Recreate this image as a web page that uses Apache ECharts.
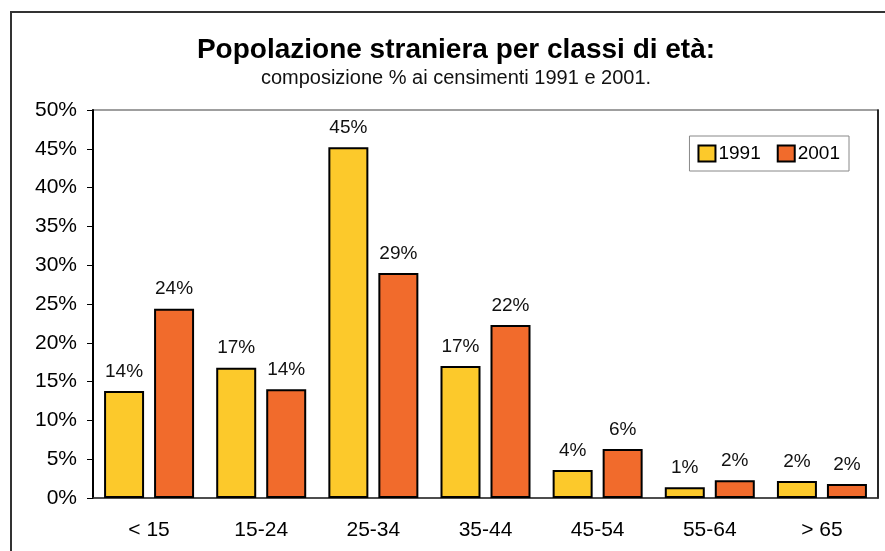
<!DOCTYPE html>
<html>
<head>
<meta charset="utf-8">
<script src="https://cdn.jsdelivr.net/npm/echarts@6/dist/echarts.min.js"></script>
<style>
  html, body { margin: 0; padding: 0; background: #fff; }
  #chart { width: 885px; height: 551px; }
</style>
</head>
<body>
<div id="chart"></div>
<script>
// classi di età e quote percentuali
const categories = ['< 15', '15-24', '25-34', '35-44', '45-54', '55-64', '> 65'];
const values1991 = [13.8, 16.8, 45.2, 17.0, 3.6, 1.4, 2.2];
const values2001 = [24.4, 14.0, 29.0, 22.3, 6.3, 2.3, 1.8];
const yTicks = [0, 5, 10, 15, 20, 25, 30, 35, 40, 45, 50];

const font = 'Liberation Sans, Arial, Helvetica, sans-serif';

let myChart = echarts.init(document.getElementById('chart'));

function barSeries(name, data, color) {
  return {
    name: name,
    type: 'bar',
    data: data,
    barWidth: 40,
    barGap: '25%',
    itemStyle: { color: color, borderColor: '#000', borderWidth: 2 },
    label: {
      show: true,
      position: 'top',
      distance: 10,
      fontFamily: font,
      fontSize: 19,
      color: '#111',
      formatter: p => Math.round(p.value) + '%'
    }
  };
}

myChart.setOption({
  animation: false,
  textStyle: { fontFamily: font },
  title: {
    text: 'Popolazione straniera per classi di età:',
    subtext: 'composizione % ai censimenti 1991 e 2001.',
    left: 451,
    textAlign: 'center',
    top: 31,
    itemGap: 4,
    textStyle: { fontFamily: font, fontSize: 28, fontWeight: 'bold', color: '#000' },
    subtextStyle: { fontFamily: font, fontSize: 20, color: '#111' }
  },
  legend: {
    right: 36,
    top: 136,
    itemWidth: 17,
    itemHeight: 16,
    itemGap: 16,
    padding: [8, 9, 8, 8],
    borderColor: '#888',
    borderWidth: 1,
    icon: 'rect',
    textStyle: { fontFamily: font, fontSize: 19, color: '#000', padding: [0, 0, 0, -2] },
    data: ['1991', '2001']
  },
  grid: {
    left: 93, right: 7, top: 110, bottom: 53,
    show: true, borderColor: '#808080', borderWidth: 1.5
  },
  xAxis: {
    type: 'category',
    data: categories,
    axisLine: { lineStyle: { color: '#333', width: 1.5 } },
    axisTick: { length: 6, lineStyle: { color: '#333' } },
    axisLabel: { margin: 22, fontSize: 21, color: '#000', fontFamily: font }
  },
  yAxis: [{
    type: 'value',
    min: yTicks[0],
    max: yTicks[yTicks.length - 1],
    interval: 5,
    splitLine: { show: false },
    axisLine: { show: true, lineStyle: { color: '#000', width: 2 } },
    axisTick: { show: true, length: 6, lineStyle: { color: '#000' } },
    axisLabel: { margin: 16, fontSize: 21, color: '#000', fontFamily: font, formatter: '{value}%' }
  }, {
    type: 'value',
    position: 'right',
    min: 0, max: 50,
    splitLine: { show: false },
    axisLine: { show: true, lineStyle: { color: '#000', width: 1.5 } },
    axisTick: { show: false },
    axisLabel: { show: false }
  }],
  graphic: [{
    type: 'rect',
    shape: { x: 11, y: 12, width: 900, height: 600 },
    style: { fill: null, stroke: '#333', lineWidth: 2 },
    silent: true
  }],
  series: [
    barSeries('1991', values1991, '#FCC92B'),
    barSeries('2001', values2001, '#F16B2C')
  ]
});
</script>
</body>
</html>
